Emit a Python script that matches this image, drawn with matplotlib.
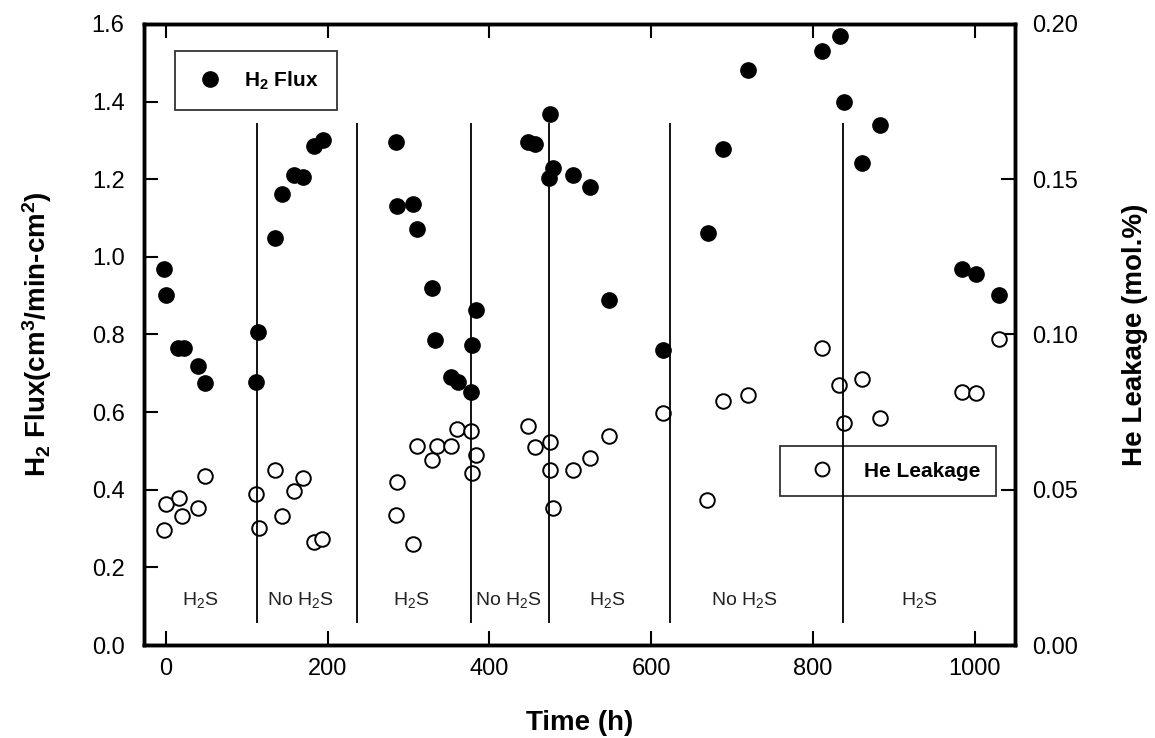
import numpy as np
import matplotlib
matplotlib.use('Agg')
import matplotlib.pyplot as plt
from matplotlib.lines import Line2D

plt.rcParams['font.family'] = ['Liberation Sans', 'DejaVu Sans']
plt.rcParams['mathtext.fontset'] = 'custom'
plt.rcParams['mathtext.rm'] = 'Liberation Sans'
plt.rcParams['mathtext.bf'] = 'Liberation Sans:bold'
plt.rcParams['mathtext.it'] = 'Liberation Sans:italic'

# H2 flux (left axis)
flux_time = [-2, 0, 15, 22, 40, 48, 112, 114, 135, 144, 159, 170, 183, 194,
             285, 286, 305, 311, 329, 333, 353, 361, 377, 379, 383,
             448, 457, 474, 475, 479, 504, 524, 548, 615,
             670, 689, 720, 811, 833, 839, 861, 883, 984, 1002, 1030]
flux = [0.97, 0.902, 0.765, 0.765, 0.718, 0.674, 0.677, 0.806, 1.048, 1.161, 1.211, 1.206, 1.285, 1.302,
        1.295, 1.131, 1.135, 1.073, 0.919, 0.787, 0.691, 0.677, 0.652, 0.774, 0.862,
        1.295, 1.29, 1.202, 1.369, 1.228, 1.211, 1.181, 0.89, 0.76,
        1.061, 1.277, 1.482, 1.531, 1.57, 1.399, 1.243, 1.34, 0.97, 0.956, 0.902]

# He leakage (right axis)
he_time = [-2, 0, 16, 20, 40, 48, 111, 115, 135, 144, 159, 169, 183, 193,
           284, 286, 305, 311, 329, 335, 353, 360, 377, 379, 383,
           448, 457, 475, 475, 479, 504, 524, 548, 615,
           669, 689, 720, 811, 832, 839, 861, 883, 984, 1002, 1030]
he = [0.0371, 0.0455, 0.0475, 0.0414, 0.044, 0.0543, 0.0486, 0.0376, 0.0565, 0.0414, 0.0497, 0.0539, 0.0331, 0.0342,
      0.0419, 0.0524, 0.0325, 0.0642, 0.0597, 0.0642, 0.0642, 0.0696, 0.069, 0.0554, 0.0613,
      0.0706, 0.0639, 0.0653, 0.0565, 0.044, 0.0565, 0.0602, 0.0674, 0.0748,
      0.0466, 0.0785, 0.0804, 0.0955, 0.0837, 0.0715, 0.0857, 0.0731, 0.0815, 0.081, 0.0984]

# condition changes and labels
switch_time = [113, 236, 377, 474, 623, 837]
region_center = [42, 166, 304, 423, 546, 716, 931]
region_label = ['H$_2$S', 'No H$_2$S', 'H$_2$S', 'No H$_2$S', 'H$_2$S', 'No H$_2$S', 'H$_2$S']

fig = plt.figure(figsize=(11.55, 7.38), dpi=100)
ax = fig.add_axes([0.1247, 0.126, 0.7541, 0.8415])
ax2 = ax.twinx()

ax2.vlines(np.array(switch_time), 0.057 / 8, 1.346 / 8, color='black', linewidth=1.3, zorder=5)
for xc, lab in zip(region_center, region_label):
    ax.text(xc, 0.117, lab, ha='center', va='center', fontsize=14, color='#222222')

ax.plot(flux_time, flux, 'o', color='black', markersize=11, zorder=4)
ax2.plot(he_time, he, 'o', markerfacecolor='white', markeredgecolor='black',
         markeredgewidth=1.4, markersize=10.5, zorder=4)

ax.set_xlim(-27, 1050)
ax.set_ylim(0, 1.6)
ax2.set_ylim(0, 0.2)
ax.set_xticks([0, 200, 400, 600, 800, 1000])
ax.set_yticks(np.arange(0, 1.61, 0.2))
ax.set_yticklabels(['%.1f' % v for v in np.arange(0, 1.61, 0.2)])
ax2.set_yticks([0, 0.05, 0.1, 0.15, 0.2])
ax2.set_yticklabels(['0.00', '0.05', '0.10', '0.15', '0.20'])

ax.tick_params(axis='x', direction='in', length=10, width=1.5, top=True, labelsize=17, pad=9, colors='black')
ax.tick_params(axis='y', direction='in', length=10, width=1.5, labelsize=17, pad=14)
ax2.tick_params(axis='y', direction='in', length=10, width=1.5, labelsize=17, pad=12)
for a in (ax, ax2):
    for s in a.spines.values():
        s.set_linewidth(2.5)

ax.set_xlabel('Time (h)', fontsize=20, fontweight='bold', labelpad=22)
ax.set_ylabel(r'$\mathbf{H_2}$ Flux(cm$^\mathbf{3}$/min-cm$^\mathbf{2}$)', fontsize=20, fontweight='bold', labelpad=27)
ax2.set_ylabel('He Leakage (mol.%)', fontsize=20, fontweight='bold', labelpad=32)

h1 = Line2D([], [], marker='o', linestyle='none', color='black', markersize=11)
leg1 = ax.legend([h1], [r'$\mathbf{H_2}$ Flux'], loc='upper left', bbox_to_anchor=(0.036, 0.957),
                 frameon=True, fancybox=False, edgecolor='black',
                 prop={'weight': 'bold', 'size': 15}, borderpad=0.9, handletextpad=0.9,
                 borderaxespad=0, handlelength=1.5)
leg1.get_frame().set_linewidth(1.3)

h2 = Line2D([], [], marker='o', linestyle='none', markerfacecolor='white', markeredgecolor='black',
            markeredgewidth=1.4, markersize=10)
leg2 = ax2.legend([h2], ['He Leakage'], loc='upper left', bbox_to_anchor=(0.73, 0.3205),
                  frameon=True, fancybox=False, edgecolor='black',
                  prop={'weight': 'bold', 'size': 15}, borderpad=0.75, handletextpad=0.8,
                  borderaxespad=0, handlelength=2.5)
leg2.get_frame().set_linewidth(1.3)
leg2.get_frame().set_facecolor('none')

fig.savefig('out.png', dpi=100)
